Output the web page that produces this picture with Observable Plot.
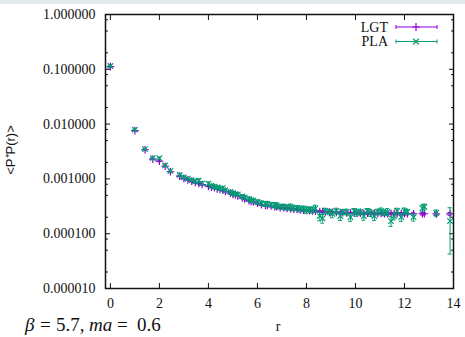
<!DOCTYPE html>
<html><head><meta charset="utf-8">
<script src="https://cdn.jsdelivr.net/npm/d3@7"></script>
<script src="https://cdn.jsdelivr.net/npm/@observablehq/plot@0.6"></script>
<style>
body{margin:0;background:#fff;}
#band{height:4px;background:#e4e9eb;}
#chart svg{display:block;}
</style></head><body><div id="band"></div><div id="chart"></div>
<script>
const r = [0, 1, 1.414, 1.732, 2, 2.236, 2.449, 2.828, 3, 3.162,
  3.317, 3.464, 3.606, 3.742, 4, 4.123, 4.243, 4.359, 4.472, 4.583,
  4.690, 4.899, 5, 5.099, 5.196, 5.385, 5.477, 5.657, 5.745, 5.831,
  6, 6.164, 6.325, 6.403, 6.557, 6.708, 6.782, 6.928, 7.071, 7.211,
  7.348, 7.483, 7.616, 7.746, 7.874, 8, 8.124, 8.246, 8.367, 8.544,
  8.660, 8.775, 8.944, 9.055, 9.220, 9.381, 9.487, 9.644, 9.798, 9.950,
  10.05, 10.20, 10.34, 10.49, 10.63, 10.77, 10.91, 11.05, 11.18, 11.31,
  11.45, 11.58, 11.70, 11.87, 12.0, 12.12, 12.37, 12.73, 12.81, 13.30,
  13.86];
const lgt = [0.112, 0.0076, 0.0034, 0.0023, 0.0021, 0.0017, 0.00135, 0.00112, 0.00102, 0.00096,
  0.00091, 0.00086, 0.00083, 0.00079, 0.00074, 0.00071, 0.00069, 0.00066, 0.00064, 0.00062,
  0.00059, 0.00055, 0.00052, 0.00051, 0.00049, 0.00045, 0.00043, 0.00040, 0.00039, 0.00038,
  0.00036, 0.00034, 0.00033, 0.00033, 0.00032, 0.00031, 0.00031, 0.00030, 0.000298, 0.00029,
  0.000285, 0.00028, 0.000278, 0.000272, 0.00027, 0.000266, 0.000263, 0.00026, 0.000258, 0.000254,
  0.000252, 0.00025, 0.000247, 0.000246, 0.000244, 0.000242, 0.000242, 0.00024, 0.000239, 0.000238,
  0.000238, 0.000238, 0.000236, 0.000236, 0.000235, 0.000235, 0.000234, 0.000234, 0.000233, 0.000233,
  0.000234, 0.000233, 0.000232, 0.000232, 0.000232, 0.000232, 0.000231, 0.000231, 0.000231, 0.00023,
  0.00023];
const pla = [0.115, 0.0079, 0.0035, 0.0024, 0.0024, 0.00176, 0.0014, 0.00118, 0.00107, 0.00101,
  0.00095, 0.0009, 0.00093, 0.00083, 0.00082, 0.00075, 0.00072, 0.0007, 0.00067, 0.00068,
  0.00062, 0.00058, 0.00055, 0.00053, 0.00052, 0.00048, 0.00046, 0.00043, 0.00041, 0.0004,
  0.00038, 0.00036, 0.00035, 0.00035, 0.00034, 0.00033, 0.00033, 0.00031, 0.00031, 0.0003,
  0.00031, 0.00029, 0.0003, 0.00028, 0.00029, 0.00027, 0.00028, 0.00027, 0.00029, 0.00021,
  0.00019, 0.00026, 0.00025, 0.00023, 0.00026, 0.00021, 0.00025, 0.00025, 0.0002, 0.00026,
  0.00024, 0.00025, 0.00021, 0.00026, 0.00024, 0.00021, 0.00025, 0.00026, 0.00024, 0.00025,
  0.00017, 0.00021, 0.00026, 0.0002, 0.00026, 0.00025, 0.0002, 0.00029, 0.00031, 0.00024,
  0.00017];
const lgtErrPct = [1, 1, 1, 1.5, 1.5, 2, 2, 2, 2, 2,
  2.5, 2.5, 2.5, 2.5, 2.5, 2.5, 2.5, 2.5, 2.5, 2.5,
  2.5, 2.5, 2.5, 2.5, 2.5, 2.5, 2.5, 2.5, 2.5, 2.5,
  3.5, 3.5, 3.5, 3.5, 3.5, 3.5, 3.5, 3.5, 3.5, 3.5,
  3.5, 3.5, 3.5, 3.5, 3.5, 3.5, 3.5, 3.5, 3.5, 3.5,
  3.5, 3.5, 3.5, 3.5, 3.5, 3.5, 3.5, 3.5, 3.5, 3.5,
  5, 5, 5, 5, 5, 5, 5, 5, 5, 5,
  5, 5, 5, 5, 5, 5, 5, 5, 5, 6,
  6];
const plaErrPct = [2, 2, 3, 3, 4, 4, 4, 5, 5, 5,
  6, 7, 8, 6, 7, 6, 7, 6, 8, 7,
  6, 7, 8, 6, 7, 8, 7, 9, 8, 7,
  9, 10, 8, 11, 9, 10, 12, 9, 11, 10,
  12, 10, 9, 11, 10, 13, 10, 12, 14, 18,
  18, 12, 11, 15, 12, 17, 10, 12, 16, 11,
  13, 12, 16, 11, 14, 17, 12, 13, 11, 15,
  20, 15, 12, 16, 13, 11, 15, 14, 12, 13,
  75];
const seriesNames = ["LGT", "PLA"];
const seriesColors = ["#9400d3", "#009e73"];
const seriesSymbols = ["plus", "times"];
const xTicks = [0, 2, 4, 6, 8, 10, 12, 14];
const yTicks = [1e-5, 1e-4, 1e-3, 1e-2, 1e-1, 1];
const yMinor = [0.8, 0.5, 0.2, 0.08, 0.05, 0.02, 0.008, 0.005, 0.002,
  0.0008, 0.0005, 0.0002, 0.00008, 0.00005, 0.00002];
const yLabel = "<P⁺P(r)>";
const xLabel = "r";
const captionParts = [["β", true], ["=", false], ["5.7,", false], ["ma", true], ["=", false], ["0.6", false]];

const build = (vals, errs, name) => r.map((rv, i) => ({
  series: name, r: rv, v: vals[i],
  lo: vals[i] * (1 - errs[i] / 100), hi: vals[i] * (1 + errs[i] / 100)
}));
const sets = [build(lgt, lgtErrPct, "LGT"), build(pla, plaErrPct, "PLA")];

const serif = "Liberation Serif";
const marks = [
  Plot.axisX(xTicks, {anchor: "bottom", tickSize: 0, tickPadding: 10, label: null, fontSize: 14, fontFamily: serif}),
  Plot.axisX(xTicks, {anchor: "bottom", tickSize: -5, tickFormat: () => "", label: null}),
  Plot.axisX(xTicks, {anchor: "top", tickSize: -5, tickFormat: () => "", label: null}),
  Plot.axisY(yTicks, {anchor: "left", tickSize: 0, tickPadding: 10, tickFormat: d3.format(".6f"), label: null, fontSize: 14, fontFamily: serif}),
  Plot.axisY(yTicks, {anchor: "left", tickSize: -5, tickFormat: () => "", label: null}),
  Plot.axisY(yTicks, {anchor: "right", tickSize: -5, tickFormat: () => "", label: null}),
  Plot.axisY(yMinor, {anchor: "left", tickSize: -3, tickFormat: () => "", label: null}),
  Plot.axisY(yMinor, {anchor: "right", tickSize: -3, tickFormat: () => "", label: null})
];
sets.forEach((data, k) => {
  const c = seriesColors[k];
  marks.push(
    Plot.ruleX(data, {x: "r", y1: "lo", y2: "hi", stroke: c, strokeWidth: 1}),
    Plot.ruleY(data, {y: "lo", x1: "r", x2: "r", insetLeft: -2, insetRight: -2, stroke: c, strokeWidth: 1}),
    Plot.ruleY(data, {y: "hi", x1: "r", x2: "r", insetLeft: -2, insetRight: -2, stroke: c, strokeWidth: 1}),
    Plot.dot(data, {x: "r", y: "v", symbol: seriesSymbols[k], stroke: c, r: 2.6, strokeWidth: 1.2})
  );
});
marks.push(Plot.frame({stroke: "#111", strokeWidth: 1.5}));

const plot = Plot.plot({
  width: 465, height: 333,
  marginTop: 10, marginRight: 12, marginBottom: 49, marginLeft: 105,
  style: {fontFamily: serif, fontSize: "14px", background: "white", color: "#111", overflow: "visible"},
  x: {domain: [-0.2, 14]},
  y: {type: "log", domain: [1e-5, 1]},
  marks
});
document.getElementById("chart").appendChild(plot);

const svg = d3.select(plot);
// y label
svg.append("text").attr("transform", "translate(15,146) rotate(-90)")
  .attr("text-anchor", "middle").attr("font-family", "Liberation Sans")
  .attr("font-size", 13).attr("fill", "#111").text(yLabel);
// x label
svg.append("text").attr("x", 278).attr("y", 327).attr("text-anchor", "middle")
  .attr("font-family", serif).attr("font-size", 14).attr("fill", "#111").text(xLabel);
// caption (LaTeX-like spacing)
const capX = [25, 40, 56, 89, 117, 137];
const cap = svg.append("text").attr("y", 327).attr("text-anchor", "start")
  .attr("font-family", serif).attr("font-size", 19).attr("fill", "#111");
captionParts.forEach(([t, it], i) => {
  cap.append("tspan").attr("x", capX[i]).attr("font-style", it ? "italic" : "normal").text(t);
});
// legend
const sym = {plus: d3.symbolPlus, times: d3.symbolTimes};
seriesNames.forEach((name, k) => {
  const yy = 23 + k * 14.5, c = seriesColors[k];
  svg.append("text").attr("x", 388).attr("y", yy).attr("dy", "0.35em").attr("text-anchor", "end")
    .attr("font-family", serif).attr("font-size", 14).attr("fill", "#111").text(name);
  const g = svg.append("g").attr("stroke", c).attr("stroke-width", 1).attr("fill", "none");
  g.append("line").attr("x1", 396).attr("x2", 437).attr("y1", yy).attr("y2", yy);
  g.append("line").attr("x1", 396).attr("x2", 396).attr("y1", yy - 2).attr("y2", yy + 2);
  g.append("line").attr("x1", 437).attr("x2", 437).attr("y1", yy - 2).attr("y2", yy + 2);
  g.append("path").attr("transform", `translate(416,${yy})`).attr("stroke-width", 1.2)
    .attr("d", d3.symbol(sym[seriesSymbols[k]], 22)());
});
</script></body></html>
